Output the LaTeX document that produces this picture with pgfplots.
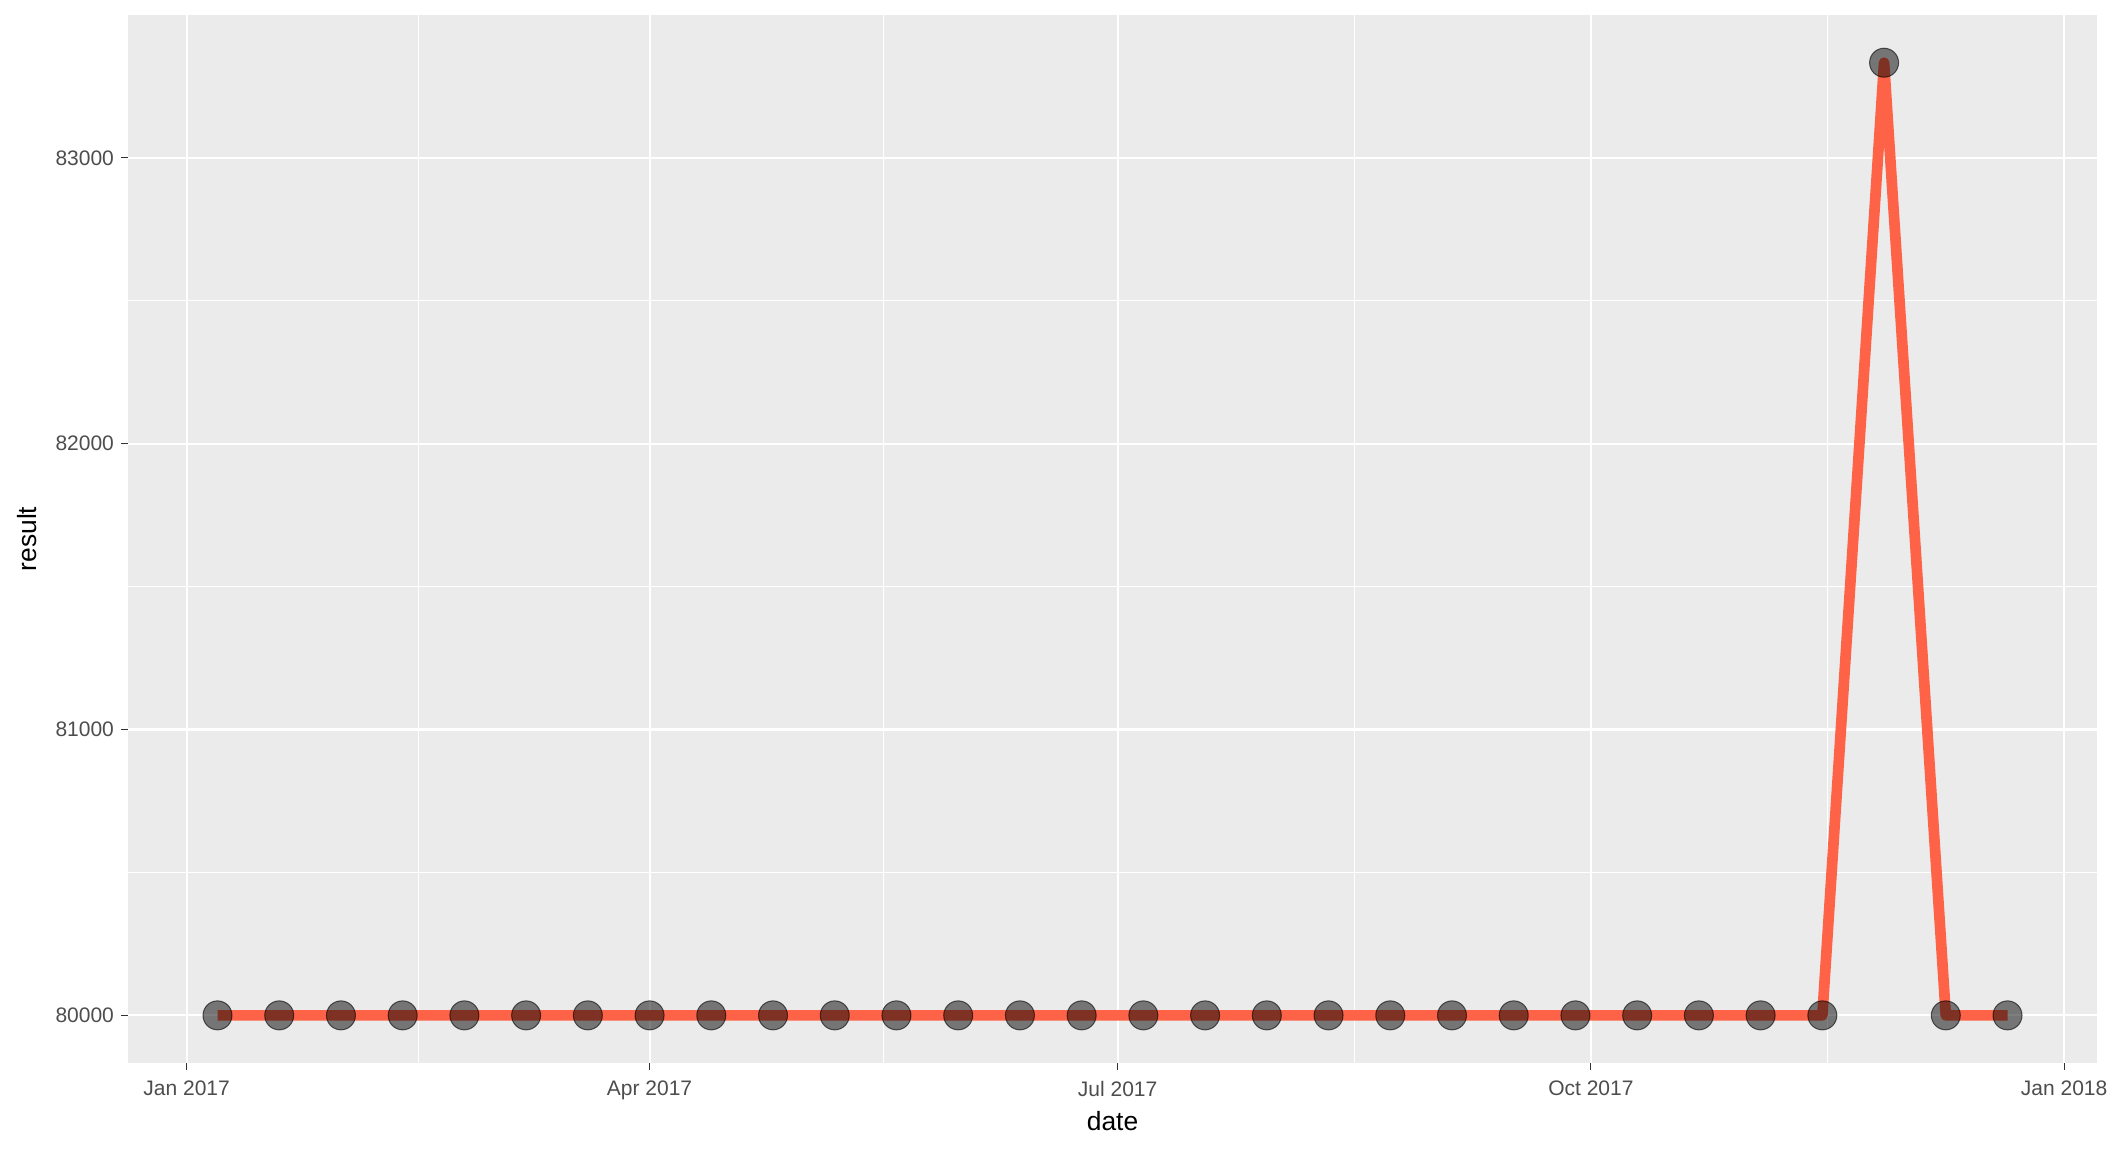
\documentclass[border=0pt]{standalone}
\usepackage{pgfplots}
\pgfplotsset{compat=1.18}
\usepackage{fontspec}
\setmainfont{Liberation Sans}
\definecolor{panel}{HTML}{EBEBEB}
\definecolor{tickc}{HTML}{333333}
\definecolor{labc}{HTML}{4D4D4D}
\definecolor{linec}{HTML}{FF6347}
\pgfplotstableread{
day value
6 80000
18 80000
30 80000
42 80000
54 80000
66 80000
78 80000
90 80000
102 80000
114 80000
126 80000
138 80000
150 80000
162 80000
174 80000
186 80000
198 80000
210 80000
222 80000
234 80000
246 80000
258 80000
270 80000
282 80000
294 80000
306 80000
318 80000
330 83333
342 80000
354 80000
}\datatable
\begin{document}
\begin{tikzpicture}
\path[use as bounding box] (-64pt,-44.5pt) rectangle (992pt,531.5pt);
\begin{axis}[at={(0,0)}, anchor=south west, scale only axis,
 width=984.5pt, height=524pt,
 xmin=-11.4, xmax=371.4, ymin=79833.33, ymax=83500,
 axis background/.style={fill=panel},
 axis line style={draw=none},
 tick align=outside, major tick length=3.5pt, minor tick length=0pt,
 xtick pos=bottom, ytick pos=left,
 every tick/.style={tickc, line width=0.55pt},
 xtick={0,90,181,273,365},
 xticklabels={Jan 2017,Apr 2017,Jul 2017,Oct 2017,Jan 2018},
 minor xtick={45,135.5,227,319},
 ytick={80000,81000,82000,83000},
 yticklabels={80000,81000,82000,83000},
 minor ytick={80500,81500,82500},
 grid=both,
 major grid style={white, line width=1.07pt},
 minor grid style={white, line width=0.53pt},
 ticklabel style={font=\fontsize{10.5}{12}\selectfont, text=labc},
 xticklabel style={yshift=-2pt},
 xlabel={date}, ylabel={result},
 label style={font=\fontsize{13.2}{15}\selectfont, text=black},
 xlabel style={at={(axis description cs:0.5,0)}, anchor=center, yshift=-29pt},
 ylabel style={at={(axis description cs:0,0.5)}, anchor=center, yshift=50.5pt},
]
\addplot[linec, line width=5.35pt, line join=round, line cap=butt, no marks] table[x=day, y=value] {\datatable};
\addplot[only marks, mark=*, mark size=7.25pt, mark options={fill=black, fill opacity=0.5, draw=black, draw opacity=0.6, line width=0.5pt}] table[x=day, y=value] {\datatable};
\end{axis}
\end{tikzpicture}
\end{document}
